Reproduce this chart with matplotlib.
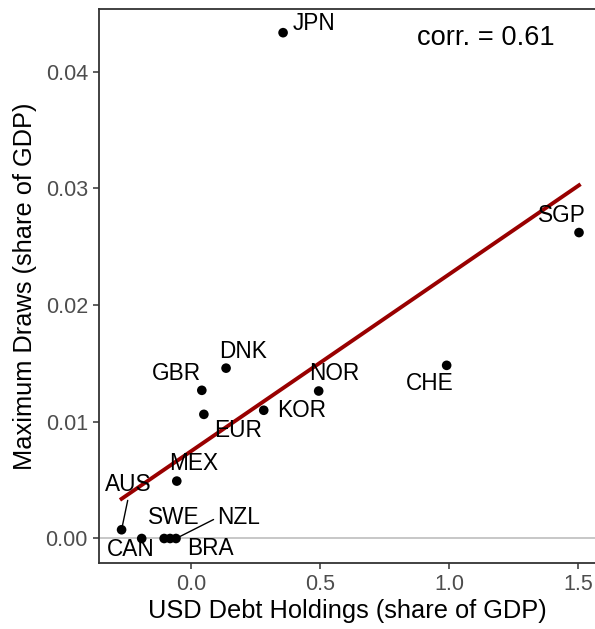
import numpy as np
import matplotlib
matplotlib.use("Agg")
import matplotlib.pyplot as plt

plt.rcParams['font.family'] = ['Liberation Sans', 'DejaVu Sans']

# data
countries = ['JPN', 'SGP', 'CHE', 'DNK', 'GBR', 'NOR', 'KOR', 'EUR',
             'MEX', 'AUS', 'CAN', 'SWE', 'BRA', 'NZL']
usd_debt = [0.355, 1.502, 0.989, 0.134, 0.040, 0.493, 0.280, 0.048,
            -0.057, -0.271, -0.193, -0.106, -0.083, -0.060]
max_draws = [0.04335, 0.02622, 0.01484, 0.01460, 0.01270, 0.01264, 0.01099, 0.01064,
             0.00492, 0.00075, 0.0, 0.0, 0.0, 0.0]

# label offsets in pixels (repel-style placement)
label_offsets = {
    'JPN': (31, 9), 'SGP': (-17, 17), 'CHE': (-17, -18), 'DNK': (17, 17),
    'GBR': (-25, 17), 'NOR': (16, 18), 'KOR': (38, 0), 'EUR': (34, -16),
    'MEX': (17, 18), 'AUS': (7, 45), 'CAN': (-11, -11), 'SWE': (10, 21),
    'BRA': (40, -10), 'NZL': (63, 21),
}
# labels joined to their point by a segment, and where the segment meets the text
segment_anchor = {'AUS': (0.5, 0.0), 'NZL': (0.0, 0.5)}

x = np.array(usd_debt)
y = np.array(max_draws)
slope, intercept = np.polyfit(x, y, 1)
corr = np.corrcoef(x, y)[0, 1]

fig = plt.figure(figsize=(5.95, 6.29), dpi=100)
ax = fig.add_axes([99/595, 66/629, 1 - 99/595, (563 - 9)/629])

ax.axhline(0, color='#BEBEBE', lw=1.2, zorder=1)
xs = np.array([x.min(), x.max()])
ax.plot(xs, intercept + slope*xs, color='#990000', lw=2.8, zorder=2)
ax.scatter(x, y, s=48, color='black', zorder=3, edgecolor='none')

for name, xi, yi in zip(countries, x, y):
    dx, dy = label_offsets[name]
    props = None
    if name in segment_anchor:
        props = dict(arrowstyle='-', color='black', lw=1.0, shrinkA=1, shrinkB=3,
                     relpos=segment_anchor[name])
    ax.annotate(name, (xi, yi), xytext=(dx, dy), textcoords='offset pixels',
                ha='center', va='center', fontsize=16.3, color='black',
                arrowprops=props, zorder=4)

ax.text(0.919, 0.948, 'corr. = %.2f' % corr, transform=ax.transAxes,
        ha='right', va='center', fontsize=19.6, color='black')

ax.set_xlim(-0.3585, 1.564)
ax.set_ylim(-0.0021, 0.04538)
ax.set_xticks([0.0, 0.5, 1.0, 1.5])
ax.set_xticklabels(['0.0', '0.5', '1.0', '1.5'])
ax.set_yticks([0.0, 0.01, 0.02, 0.03, 0.04])
ax.set_yticklabels(['0.00', '0.01', '0.02', '0.03', '0.04'])

ax.spines['right'].set_visible(False)
for s in ['left', 'bottom', 'top']:
    ax.spines[s].set_color('#333333')
    ax.spines[s].set_linewidth(1.3)
ax.tick_params(colors='#333333', length=4, width=1.1, labelsize=15.5,
               labelcolor='#4D4D4D', pad=4)

ax.set_xlabel('USD Debt Holdings (share of GDP)', fontsize=18.3, labelpad=3)
ax.set_ylabel('Maximum Draws (share of GDP)', fontsize=18.3, labelpad=6)

fig.savefig('out.png', dpi=100)
